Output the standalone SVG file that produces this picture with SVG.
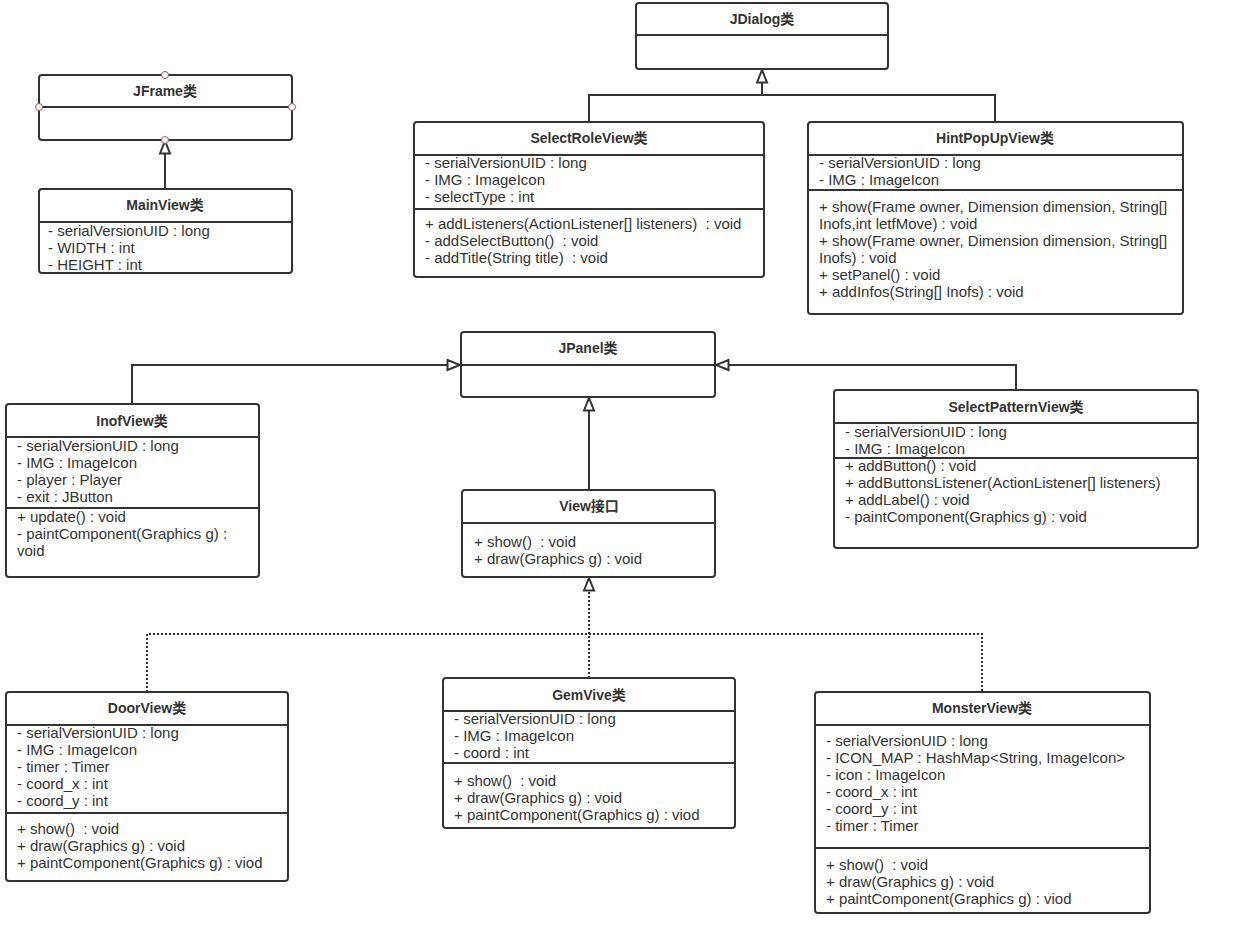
<svg xmlns="http://www.w3.org/2000/svg" width="1235" height="933" viewBox="0 0 1235 933">
<defs>
<marker id="tri" markerUnits="userSpaceOnUse" markerWidth="16" markerHeight="14" viewBox="0 0 16 14" refX="14" refY="7" orient="auto">
<path d="M1.5,2 L14,7 L1.5,12 z" fill="#fff" stroke="#333" stroke-width="2"/>
</marker>
<style>
.box{fill:#fff;stroke:#333;stroke-width:2}
.div{stroke:#333;stroke-width:2}
.t{font-family:"Liberation Sans","Noto Sans CJK SC",sans-serif;font-size:15px;fill:#333;white-space:pre}
.h{font-family:"Liberation Sans","Noto Sans CJK SC",sans-serif;font-size:14px;font-weight:bold;fill:#333;text-anchor:middle}
.ln{fill:none;stroke:#333;stroke-width:2}
.dot{fill:none;stroke:#333;stroke-width:2;stroke-dasharray:2 2}
.pt{fill:#fff;stroke:#a05050;stroke-width:1}
</style>
</defs>
<rect width="1235" height="933" fill="#fff"/>
<g id="connectors">
<path class="ln" d="M165,189 V141" marker-end="url(#tri)"/>
<path class="ln" d="M589,122 V95 H995 V122"/>
<path class="ln" d="M762,95 V70" marker-end="url(#tri)"/>
<path class="ln" d="M132,404 V365 H460" marker-end="url(#tri)"/>
<path class="ln" d="M1016,390 V365 H716" marker-end="url(#tri)"/>
<path class="ln" d="M589,490 V398" marker-end="url(#tri)"/>
<path class="dot" d="M147,692 V634 H982 V692"/>
<path class="dot" d="M589,678 V578" marker-end="url(#tri)"/>
</g>
<g id="JFrame">
<rect class="box" x="39" y="75" width="253" height="65" rx="3"/>
<line class="div" x1="39" y1="107" x2="292" y2="107"/>
<text class="h" x="165" y="96">JFrame类</text>
<circle class="pt" cx="165" cy="75" r="3.5"/>
<circle class="pt" cx="39" cy="107" r="3.5"/>
<circle class="pt" cx="292" cy="107" r="3.5"/>
<circle class="pt" cx="165" cy="140" r="3.5"/>
</g>
<g id="MainView">
<rect class="box" x="39" y="189" width="253" height="84" rx="3"/>
<line class="div" x1="39" y1="222" x2="292" y2="222"/>
<text class="h" x="165" y="210">MainView类</text>
<text class="t" x="48" y="236">- serialVersionUID : long</text>
<text class="t" x="48" y="253">- WIDTH : int</text>
<text class="t" x="48" y="270">- HEIGHT : int</text>
</g>
<g id="JDialog">
<rect class="box" x="636" y="3" width="252" height="66" rx="3"/>
<line class="div" x1="636" y1="35" x2="888" y2="35"/>
<text class="h" x="762" y="24">JDialog类</text>
</g>
<g id="SelectRoleView">
<rect class="box" x="414" y="122" width="350" height="155" rx="3"/>
<line class="div" x1="414" y1="155" x2="764" y2="155"/>
<line class="div" x1="414" y1="209" x2="764" y2="209"/>
<text class="h" x="589" y="143">SelectRoleView类</text>
<text class="t" x="425" y="168">- serialVersionUID : long</text>
<text class="t" x="425" y="185">- IMG : ImageIcon</text>
<text class="t" x="425" y="202">- selectType : int</text>
<text class="t" x="425" y="229">+ addListeners(ActionListener[] listeners)  : void</text>
<text class="t" x="425" y="246">- addSelectButton()  : void</text>
<text class="t" x="425" y="263">- addTitle(String title)  : void</text>
</g>
<g id="HintPopUpView">
<rect class="box" x="808" y="122" width="375" height="192" rx="3"/>
<line class="div" x1="808" y1="155" x2="1183" y2="155"/>
<line class="div" x1="808" y1="190" x2="1183" y2="190"/>
<text class="h" x="995" y="143">HintPopUpView类</text>
<text class="t" x="819" y="168">- serialVersionUID : long</text>
<text class="t" x="819" y="185">- IMG : ImageIcon</text>
<text class="t" x="819" y="212">+ show(Frame owner, Dimension dimension, String[]</text>
<text class="t" x="819" y="229">Inofs,int letfMove) : void</text>
<text class="t" x="819" y="246">+ show(Frame owner, Dimension dimension, String[]</text>
<text class="t" x="819" y="263">Inofs) : void</text>
<text class="t" x="819" y="280">+ setPanel() : void</text>
<text class="t" x="819" y="297">+ addInfos(String[] Inofs) : void</text>
</g>
<g id="JPanel">
<rect class="box" x="461" y="332" width="254" height="65" rx="3"/>
<line class="div" x1="461" y1="365" x2="715" y2="365"/>
<text class="h" x="588" y="353">JPanel类</text>
</g>
<g id="InofView">
<rect class="box" x="6" y="404" width="253" height="173" rx="3"/>
<line class="div" x1="6" y1="437" x2="259" y2="437"/>
<line class="div" x1="6" y1="508" x2="259" y2="508"/>
<text class="h" x="132" y="426">InofView类</text>
<text class="t" x="17" y="451">- serialVersionUID : long</text>
<text class="t" x="17" y="468">- IMG : ImageIcon</text>
<text class="t" x="17" y="485">- player : Player</text>
<text class="t" x="17" y="502">- exit : JButton</text>
<text class="t" x="17" y="522">+ update() : void</text>
<text class="t" x="17" y="539">- paintComponent(Graphics g) :</text>
<text class="t" x="17" y="556">void</text>
</g>
<g id="SelectPatternView">
<rect class="box" x="834" y="390" width="364" height="158" rx="3"/>
<line class="div" x1="834" y1="423" x2="1198" y2="423"/>
<line class="div" x1="834" y1="458" x2="1198" y2="458"/>
<text class="h" x="1016" y="412">SelectPatternView类</text>
<text class="t" x="845" y="437">- serialVersionUID : long</text>
<text class="t" x="845" y="454">- IMG : ImageIcon</text>
<text class="t" x="845" y="471">+ addButton() : void</text>
<text class="t" x="845" y="488">+ addButtonsListener(ActionListener[] listeners)</text>
<text class="t" x="845" y="505">+ addLabel() : void</text>
<text class="t" x="845" y="522">- paintComponent(Graphics g) : void</text>
</g>
<g id="View">
<rect class="box" x="462" y="490" width="253" height="87" rx="3"/>
<line class="div" x1="462" y1="523" x2="715" y2="523"/>
<text class="h" x="589" y="511">View接口</text>
<text class="t" x="474" y="547">+ show()  : void</text>
<text class="t" x="474" y="564">+ draw(Graphics g) : void</text>
</g>
<g id="DoorView">
<rect class="box" x="6" y="692" width="282" height="189" rx="3"/>
<line class="div" x1="6" y1="725" x2="288" y2="725"/>
<line class="div" x1="6" y1="813" x2="288" y2="813"/>
<text class="h" x="147" y="713">DoorView类</text>
<text class="t" x="17" y="738">- serialVersionUID : long</text>
<text class="t" x="17" y="755">- IMG : ImageIcon</text>
<text class="t" x="17" y="772">- timer : Timer</text>
<text class="t" x="17" y="789">- coord_x : int</text>
<text class="t" x="17" y="806">- coord_y : int</text>
<text class="t" x="17" y="834">+ show()  : void</text>
<text class="t" x="17" y="851">+ draw(Graphics g) : void</text>
<text class="t" x="17" y="868">+ paintComponent(Graphics g) : viod</text>
</g>
<g id="GemVive">
<rect class="box" x="443" y="678" width="292" height="150" rx="3"/>
<line class="div" x1="443" y1="711" x2="735" y2="711"/>
<line class="div" x1="443" y1="763" x2="735" y2="763"/>
<text class="h" x="589" y="700">GemVive类</text>
<text class="t" x="454" y="724">- serialVersionUID : long</text>
<text class="t" x="454" y="741">- IMG : ImageIcon</text>
<text class="t" x="454" y="758">- coord : int</text>
<text class="t" x="454" y="786">+ show()  : void</text>
<text class="t" x="454" y="803">+ draw(Graphics g) : void</text>
<text class="t" x="454" y="820">+ paintComponent(Graphics g) : viod</text>
</g>
<g id="MonsterView">
<rect class="box" x="815" y="692" width="335" height="221" rx="3"/>
<line class="div" x1="815" y1="725" x2="1150" y2="725"/>
<line class="div" x1="815" y1="848" x2="1150" y2="848"/>
<text class="h" x="982" y="713">MonsterView类</text>
<text class="t" x="826" y="746">- serialVersionUID : long</text>
<text class="t" x="826" y="763">- ICON_MAP : HashMap&lt;String, ImageIcon&gt;</text>
<text class="t" x="826" y="780">- icon : ImageIcon</text>
<text class="t" x="826" y="797">- coord_x : int</text>
<text class="t" x="826" y="814">- coord_y : int</text>
<text class="t" x="826" y="831">- timer : Timer</text>
<text class="t" x="826" y="870">+ show()  : void</text>
<text class="t" x="826" y="887">+ draw(Graphics g) : void</text>
<text class="t" x="826" y="904">+ paintComponent(Graphics g) : viod</text>
</g>
</svg>
